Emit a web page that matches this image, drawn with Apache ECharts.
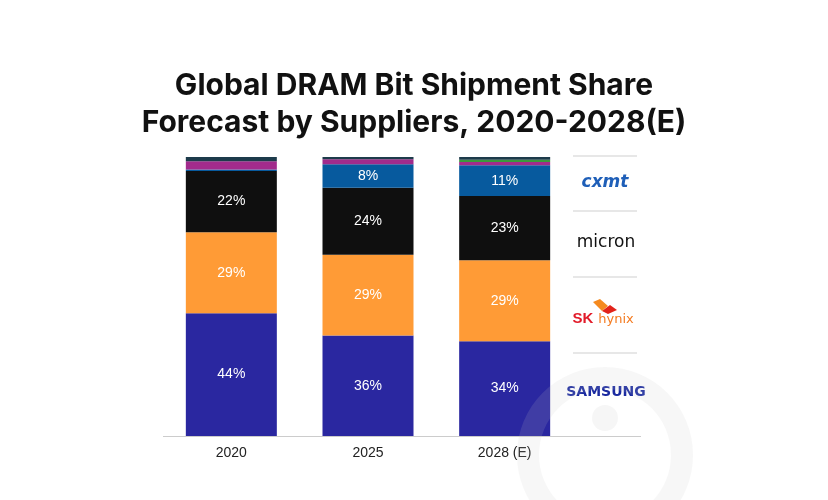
<!DOCTYPE html>
<html>
<head>
<meta charset="utf-8">
<script src="https://cdn.jsdelivr.net/npm/echarts@6/dist/echarts.min.js"></script>
<style>
  html, body { margin: 0; padding: 0; background: #fff; }
  #chart { width: 828px; height: 500px; }
</style>
</head>
<body>
<div id="chart"></div>
<script>
// 数据
var years = ['2020', '2025', '2028 (E)'];
var samsung = [44, 36, 34];
var skHynix = [29, 29, 29];
var micron = [22, 24, 23];
var cxmt = [0.5, 8.4, 11];
var nanya = [3, 1.8, 1.2];
var otherGreen = [0, 0, 0.8];
var others = [1.5, 0.8, 1];
// 只给这几个写百分比
var labelled = { 'Samsung': 1, 'SK hynix': 1, 'Micron': 1, 'CXMT': 1 };

var chart = echarts.init(document.getElementById('chart'));

function makeSeries(name, data, color) {
    return {
        name: name,
        type: 'bar',
        stack: 'share',
        barWidth: 91,
        data: data,
        itemStyle: { color: color },
        label: {
            show: !!labelled[name],
            color: '#fff',
            fontFamily: 'Liberation Sans',
            fontSize: 14,
            formatter: function (p) {
                return p.value >= 5 ? Math.round(p.value) + '%' : '';
            }
        }
    };
}

var font = 'Liberation Sans';
var option = {
    backgroundColor: '#fff',
    animation: false,
    title: {
        text: 'Global DRAM Bit Shipment Share\nForecast by Suppliers, 2020-2028(E)',
        left: 'center',
        top: 62,
        textStyle: {
            fontFamily: 'Inter',
            fontWeight: 700,
            fontSize: 30,
            lineHeight: 37,
            color: '#111'
        }
    },
    grid: { left: 163, right: 255, top: 157, bottom: 64 },
    xAxis: {
        type: 'category',
        data: years,
        axisLine: { show: false },
        axisTick: { show: false },
        axisLabel: { fontFamily: font, fontSize: 14, color: '#222', margin: 10 }
    },
    yAxis: {
        type: 'value',
        min: 0,
        max: 100,
        show: false
    },
    series: [
        makeSeries('Samsung', samsung, '#2a27a0'),
        makeSeries('SK hynix', skHynix, '#ff9b36'),
        makeSeries('Micron', micron, '#0f0f0f'),
        makeSeries('CXMT', cxmt, '#075a9e'),
        makeSeries('Nanya', nanya, '#a22b8c'),
        makeSeries('Winbond', otherGreen, '#3c9a3c'),
        makeSeries('Others', others, '#1d3b4b')
    ],
    graphic: [
        // 右侧分隔线
        { type: 'line', shape: { x1: 573, y1: 156, x2: 637, y2: 156 }, style: { stroke: '#cfcfcf', lineWidth: 1 } },
        { type: 'line', shape: { x1: 573, y1: 211, x2: 637, y2: 211 }, style: { stroke: '#cfcfcf', lineWidth: 1 } },
        { type: 'line', shape: { x1: 573, y1: 277, x2: 637, y2: 277 }, style: { stroke: '#cfcfcf', lineWidth: 1 } },
        { type: 'line', shape: { x1: 573, y1: 353, x2: 637, y2: 353 }, style: { stroke: '#cfcfcf', lineWidth: 1 } },
        // 底部轴线
        { type: 'line', shape: { x1: 163, y1: 436.5, x2: 641, y2: 436.5 }, style: { stroke: '#cccccc', lineWidth: 1 } },
        // logo 文字
        { type: 'text', x: 605, y: 183, style: { text: 'cxmt', fontFamily: 'DejaVu Sans', fontWeight: 'bold', fontStyle: 'italic', fontSize: 17, fill: '#1f5fb8', align: 'center', verticalAlign: 'middle' } },
        { type: 'text', x: 606, y: 243, style: { text: 'micron', fontFamily: 'DejaVu Sans', fontSize: 17, fill: '#111', align: 'center', verticalAlign: 'middle' } },
        { type: 'text', x: 583, y: 319, style: { text: 'SK', fontFamily: 'Liberation Sans', fontWeight: 'bold', fontSize: 15, fill: '#e21c2a', align: 'center', verticalAlign: 'middle' } },
        { type: 'text', x: 616, y: 320, style: { text: 'hynix', fontFamily: 'DejaVu Sans', fontSize: 13, fill: '#f47b20', align: 'center', verticalAlign: 'middle' } },
        { type: 'polygon', shape: { points: [[593, 302], [600, 299], [608, 306], [602, 311]] }, style: { fill: '#f58a1f' } },
        { type: 'polygon', shape: { points: [[602, 311], [610, 305], [617, 310], [608, 314]] }, style: { fill: '#e2231a' } },
        { type: 'text', x: 606, y: 392, style: { text: 'SAMSUNG', fontFamily: 'DejaVu Sans', fontWeight: 'bold', fontSize: 14, fill: '#1b2ba0', align: 'center', verticalAlign: 'middle' } },
        // 背景水印
        { type: 'ring', z: 100, silent: true, shape: { cx: 605, cy: 455, r: 88, r0: 66 }, style: { fill: 'rgba(200,200,200,0.14)' } },
        { type: 'circle', z: 100, silent: true, shape: { cx: 605, cy: 418, r: 13 }, style: { fill: 'rgba(200,200,200,0.16)' } }
    ]
};
chart.setOption(option);
</script>
</body>
</html>
